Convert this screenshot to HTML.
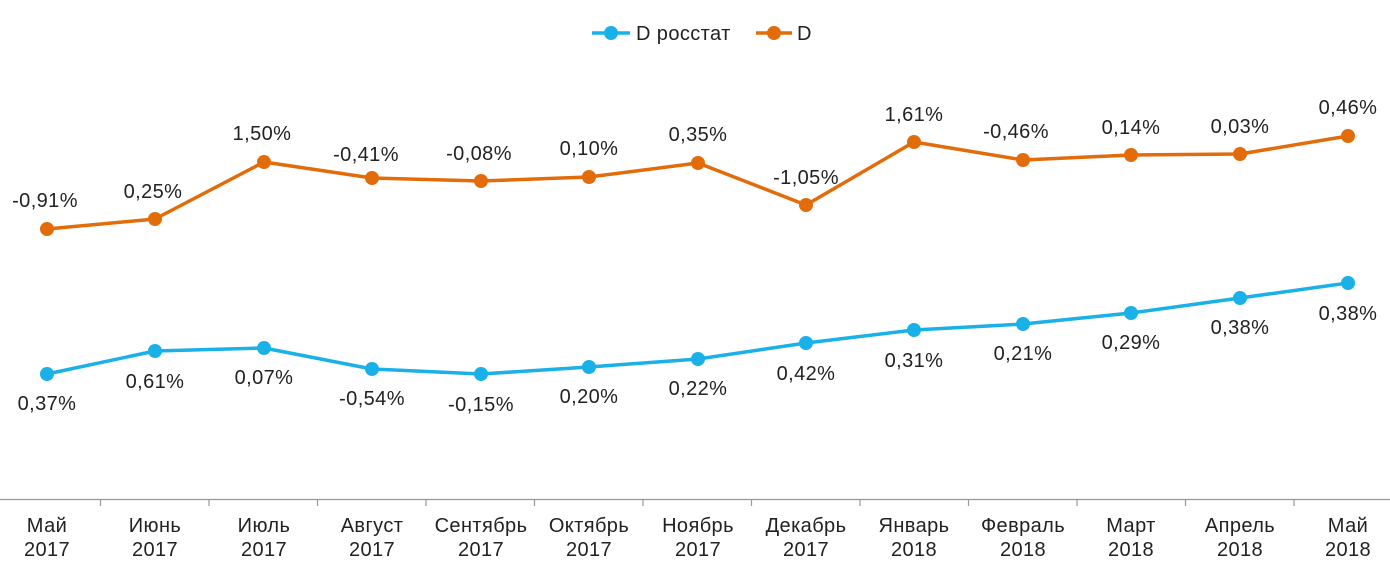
<!DOCTYPE html>
<html><head><meta charset="utf-8"><style>
body{margin:0;background:#fff}
svg text{font-family:"Liberation Sans",sans-serif;font-size:20px;letter-spacing:0.4px;fill:#222}
</style></head><body>
<svg width="1390" height="577" xmlns="http://www.w3.org/2000/svg">
<line x1="0" y1="499.5" x2="1390" y2="499.5" stroke="#999" stroke-width="1.2"/>
<g stroke="#999" stroke-width="1.2">
<line x1="100.5" y1="499" x2="100.5" y2="506"/><line x1="209" y1="499" x2="209" y2="506"/><line x1="317.5" y1="499" x2="317.5" y2="506"/><line x1="426" y1="499" x2="426" y2="506"/><line x1="534.5" y1="499" x2="534.5" y2="506"/><line x1="643" y1="499" x2="643" y2="506"/><line x1="751.5" y1="499" x2="751.5" y2="506"/><line x1="860" y1="499" x2="860" y2="506"/><line x1="968.5" y1="499" x2="968.5" y2="506"/><line x1="1077" y1="499" x2="1077" y2="506"/><line x1="1185.5" y1="499" x2="1185.5" y2="506"/><line x1="1294" y1="499" x2="1294" y2="506"/>
</g>
<g text-anchor="middle">
<text x="47" y="532">Май</text><text x="47" y="556">2017</text>
<text x="155" y="532">Июнь</text><text x="155" y="556">2017</text>
<text x="264" y="532">Июль</text><text x="264" y="556">2017</text>
<text x="372" y="532">Август</text><text x="372" y="556">2017</text>
<text x="481" y="532">Сентябрь</text><text x="481" y="556">2017</text>
<text x="589" y="532">Октябрь</text><text x="589" y="556">2017</text>
<text x="698" y="532">Ноябрь</text><text x="698" y="556">2017</text>
<text x="806" y="532">Декабрь</text><text x="806" y="556">2017</text>
<text x="914" y="532">Январь</text><text x="914" y="556">2018</text>
<text x="1023" y="532">Февраль</text><text x="1023" y="556">2018</text>
<text x="1131" y="532">Март</text><text x="1131" y="556">2018</text>
<text x="1240" y="532">Апрель</text><text x="1240" y="556">2018</text>
<text x="1348" y="532">Май</text><text x="1348" y="556">2018</text>
</g>
<polyline fill="none" stroke="#e36c0a" stroke-width="3.5" stroke-linejoin="round" points="47,229 155,219 264,162 372,178 481,181 589,177 698,163 806,205 914,142 1023,160 1131,155 1240,154 1348,136"/>
<g fill="#e36c0a">
<circle cx="47" cy="229" r="7"/><circle cx="155" cy="219" r="7"/><circle cx="264" cy="162" r="7"/><circle cx="372" cy="178" r="7"/><circle cx="481" cy="181" r="7"/><circle cx="589" cy="177" r="7"/><circle cx="698" cy="163" r="7"/><circle cx="806" cy="205" r="7"/><circle cx="914" cy="142" r="7"/><circle cx="1023" cy="160" r="7"/><circle cx="1131" cy="155" r="7"/><circle cx="1240" cy="154" r="7"/><circle cx="1348" cy="136" r="7"/>
</g>
<polyline fill="none" stroke="#1ab0e8" stroke-width="3.5" stroke-linejoin="round" points="47,374 155,351 264,348 372,369 481,374 589,367 698,359 806,343 914,330 1023,324 1131,313 1240,298 1348,283"/>
<g fill="#1ab0e8">
<circle cx="47" cy="374" r="7"/><circle cx="155" cy="351" r="7"/><circle cx="264" cy="348" r="7"/><circle cx="372" cy="369" r="7"/><circle cx="481" cy="374" r="7"/><circle cx="589" cy="367" r="7"/><circle cx="698" cy="359" r="7"/><circle cx="806" cy="343" r="7"/><circle cx="914" cy="330" r="7"/><circle cx="1023" cy="324" r="7"/><circle cx="1131" cy="313" r="7"/><circle cx="1240" cy="298" r="7"/><circle cx="1348" cy="283" r="7"/>
</g>
<g text-anchor="middle">
<text x="45" y="207">-0,91%</text><text x="153" y="198">0,25%</text><text x="262" y="140">1,50%</text><text x="366" y="161">-0,41%</text><text x="479" y="160">-0,08%</text><text x="589" y="155">0,10%</text><text x="698" y="141">0,35%</text><text x="806" y="184">-1,05%</text><text x="914" y="121">1,61%</text><text x="1016" y="138">-0,46%</text><text x="1131" y="134">0,14%</text><text x="1240" y="133">0,03%</text><text x="1348" y="114">0,46%</text>
<text x="47" y="410">0,37%</text><text x="155" y="388">0,61%</text><text x="264" y="384">0,07%</text><text x="372" y="405">-0,54%</text><text x="481" y="411">-0,15%</text><text x="589" y="403">0,20%</text><text x="698" y="395">0,22%</text><text x="806" y="380">0,42%</text><text x="914" y="367">0,31%</text><text x="1023" y="360">0,21%</text><text x="1131" y="349">0,29%</text><text x="1240" y="334">0,38%</text><text x="1348" y="320">0,38%</text>
</g>
<line x1="592" y1="33" x2="630" y2="33" stroke="#1ab0e8" stroke-width="3.5"/><circle cx="611" cy="33" r="7" fill="#1ab0e8"/>
<text x="636" y="40">D росстат</text>
<line x1="756" y1="33" x2="792" y2="33" stroke="#e36c0a" stroke-width="3.5"/><circle cx="774" cy="33" r="7" fill="#e36c0a"/>
<text x="797" y="40">D</text>
</svg>
</body></html>
